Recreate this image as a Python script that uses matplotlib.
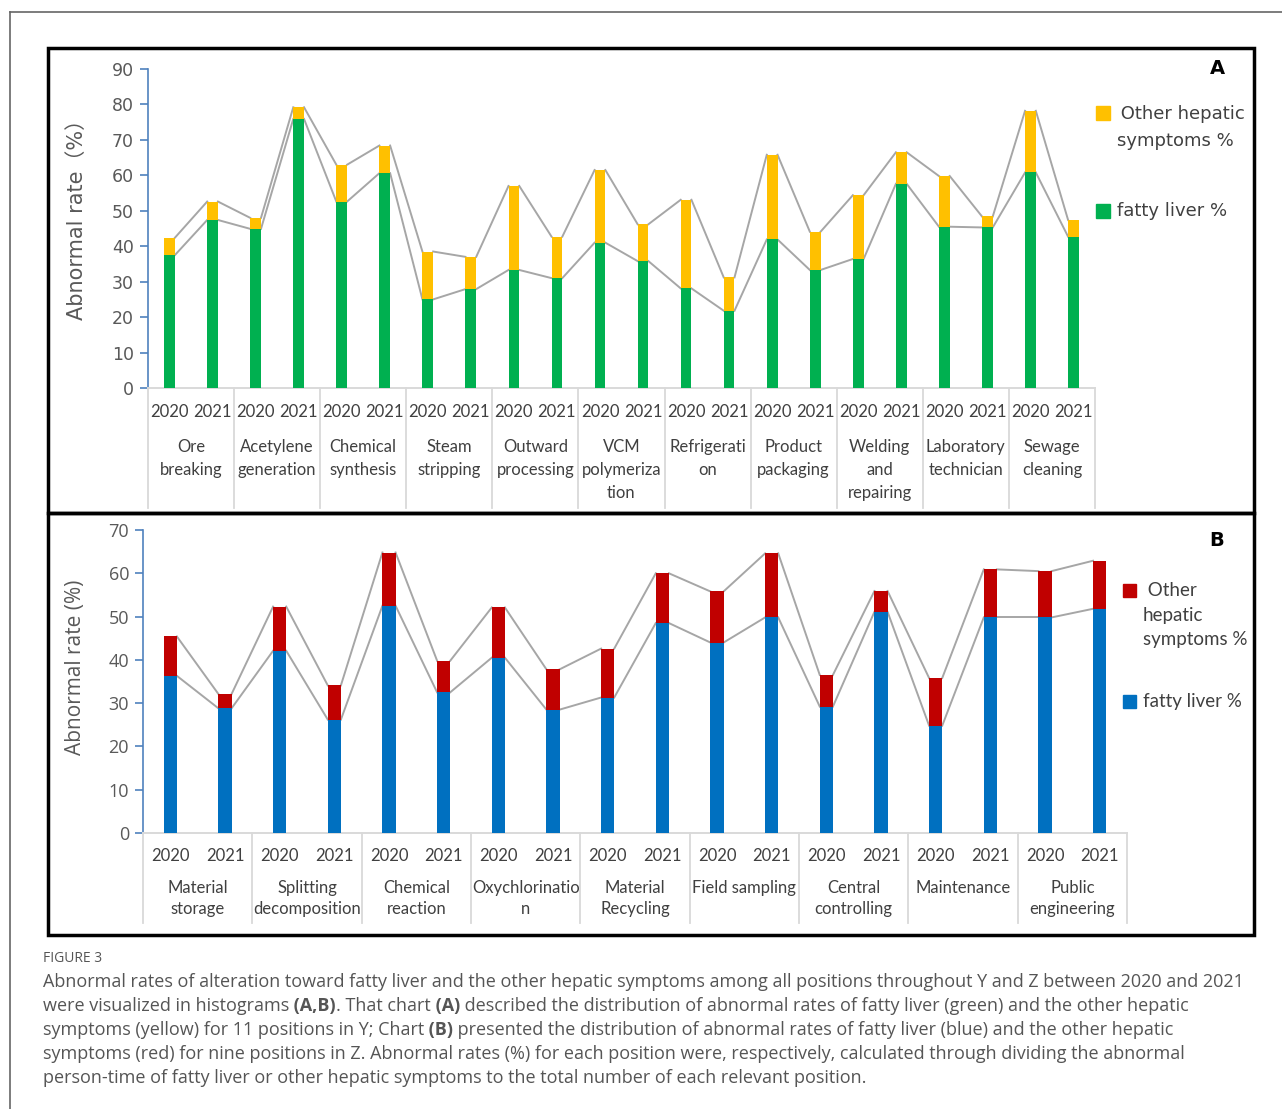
import matplotlib
matplotlib.use('Agg')
import matplotlib.pyplot as plt
import matplotlib.transforms as mtrans
from matplotlib.patches import Rectangle
from matplotlib.lines import Line2D
import numpy as np

# ---- data ----
years = ['2020', '2021']

groups_a = ['Ore\nbreaking', 'Acetylene\ngeneration', 'Chemical\nsynthesis', 'Steam\nstripping',
            'Outward\nprocessing', 'VCM\npolymeriza\ntion', 'Refrigerati\non', 'Product\npackaging',
            'Welding\nand\nrepairing', 'Laboratory\ntechnician', 'Sewage\ncleaning']
fatty_a = [37.5, 47.4, 44.9, 75.9, 52.6, 60.6, 25.0, 27.9, 33.3, 31.0, 41.0,
           35.8, 28.1, 21.8, 41.9, 33.3, 36.4, 57.6, 45.5, 45.3, 60.8, 42.7]
other_a = [4.9, 5.2, 3.1, 3.3, 10.4, 7.8, 13.5, 9.1, 23.7, 11.7, 20.5,
           10.4, 25.0, 9.4, 23.9, 10.8, 18.0, 8.9, 14.3, 3.1, 17.4, 4.7]

groups_b = ['Material\nstorage', 'Splitting\ndecomposition', 'Chemical\nreaction', 'Oxychlorinatio\nn',
            'Material\nRecycling', 'Field sampling', 'Central\ncontrolling', 'Maintenance',
            'Public\nengineering']
fatty_b = [36.3, 28.8, 42.1, 26.2, 52.5, 32.5, 40.5, 28.5, 31.3,
           48.5, 44.0, 49.8, 29.2, 51.1, 24.8, 49.8, 49.8, 51.8]
other_b = [9.1, 3.3, 10.2, 7.9, 12.3, 7.3, 11.6, 9.3, 11.3,
           11.5, 11.8, 14.8, 7.3, 4.8, 11.0, 11.1, 10.7, 11.1]

W, H = 1282, 1109
fig = plt.figure(figsize=(W / 100, H / 100), dpi=100)


def fx(x):
    return x / W


def fy(y):
    return 1 - y / H


def add_ax(x0, y0, x1, y1):
    return fig.add_axes([fx(x0), fy(y1), (x1 - x0) / W, (y1 - y0) / H])


def draw_panel(ax, groups, fatty, other, c_fat, c_oth, ymax, bw, yr_y, cat_y, sep_end,
               lab_font, lab_size, cat_spacing, tick_font, tick_size):
    n = len(fatty)
    x = np.arange(n) + 0.5
    fatty = np.array(fatty)
    total = fatty + np.array(other)

    # series lines between bar tops
    for tops in (fatty, total):
        for i in range(n - 1):
            ax.plot([x[i] + bw / 2, x[i + 1] - bw / 2], [tops[i], tops[i + 1]],
                    color='#a6a6a6', lw=1.4, zorder=2)
    ax.bar(x, fatty, bw, color=c_fat, zorder=3)
    ax.bar(x, other, bw, bottom=fatty, color=c_oth, zorder=3)

    ax.set_xlim(0, n)
    ax.set_ylim(0, ymax)
    ax.set_yticks(np.arange(0, ymax + 1, 10))
    ax.set_xticks([])
    for s in ('top', 'right'):
        ax.spines[s].set_visible(False)
    ax.spines['left'].set_color('#4f81bd')
    ax.spines['left'].set_linewidth(1.2)
    ax.spines['bottom'].set_color('#d9d9d9')
    ax.spines['bottom'].set_linewidth(1.4)
    ax.tick_params(axis='y', color='#4f81bd', length=6, width=1.2, labelcolor='#595959',
                   labelsize=tick_size, pad=4)
    for t in ax.get_yticklabels():
        t.set_family(tick_font)
    ax.patch.set_alpha(0)

    trans = mtrans.blended_transform_factory(ax.transData, fig.transFigure)
    y_axis_px = H - ax.get_position().y0 * H
    for g in range(len(groups) + 1):
        fig.add_artist(Line2D([2 * g, 2 * g], [fy(y_axis_px), fy(sep_end)], transform=trans,
                              color='#d9d9d9', lw=1.3))
    for i in range(n):
        ax.text(x[i], fy(yr_y), years[i % 2], transform=trans, ha='center', va='center',
                family=lab_font, fontsize=lab_size, color='#404040')
    for g, name in enumerate(groups):
        ax.text(2 * g + 1, fy(cat_y), name, transform=trans, ha='center', va='top',
                family=lab_font, fontsize=lab_size, color='#404040', linespacing=cat_spacing)


# outer card border
fig.add_artist(Line2D([fx(10), fx(10)], [fy(12), 0], color='#666666', lw=1.2))
fig.add_artist(Line2D([fx(10), 1], [fy(12), fy(12)], color='#666666', lw=1.2))

# panel frames
for y0, y1 in ((48, 513), (513, 935)):
    fig.add_artist(Rectangle((fx(48), fy(y1)), (1254 - 48) / W, (y1 - y0) / H,
                             fill=False, ec='black', lw=2.5))

# ---- panel A ----
ax_a = add_ax(148, 69, 1095, 388)
draw_panel(ax_a, groups_a, fatty_a, other_a, '#00b050', '#ffc000', 90, 0.25,
           412, 439, 508, 'Lato', 12, 1.55, 'DejaVu Sans', 12.5)
fig.text(fx(77), fy(215), 'Abnormal rate（%）', rotation=90, ha='center', va='center',
         family=['DejaVu Sans', 'Noto Sans CJK SC'], fontsize=15, color='#595959')
fig.text(fx(1217), fy(69), 'A', ha='center', va='center', fontsize=14, weight='bold', color='black')
fig.add_artist(Rectangle((fx(1096), fy(120)), 14 / W, 14 / H, color='#ffc000'))
fig.text(fx(1115), fy(114), ' Other hepatic', ha='left', va='center', fontsize=13, color='#404040')
fig.text(fx(1117), fy(141), 'symptoms %', ha='left', va='center', fontsize=13, color='#404040')
fig.add_artist(Rectangle((fx(1096), fy(218)), 14 / W, 14 / H, color='#00b050'))
fig.text(fx(1117), fy(211), 'fatty liver %', ha='left', va='center', fontsize=13, color='#404040')

# ---- panel B ----
ax_b = add_ax(143, 530, 1127, 833)
draw_panel(ax_b, groups_b, fatty_b, other_b, '#0070c0', '#c00000', 70, 0.24,
           856, 880, 923, 'Lato', 12, 1.4, 'Open Sans', 13)
fig.text(fx(75), fy(667), 'Abnormal rate (%)', rotation=90, ha='center', va='center',
         family='Open Sans', fontsize=15, color='#595959')
fig.text(fx(1217), fy(540), 'B', ha='center', va='center', fontsize=14, weight='bold', color='black')
fig.add_artist(Rectangle((fx(1123), fy(597)), 13 / W, 13 / H, color='#c00000'))
fig.text(fx(1143), fy(590), ' Other', ha='left', va='center', family='Lato', fontsize=13.5, color='#404040')
fig.text(fx(1143), fy(615), 'hepatic', ha='left', va='center', family='Lato', fontsize=13.5, color='#404040')
fig.text(fx(1143), fy(640), 'symptoms %', ha='left', va='center', family='Lato', fontsize=13.5, color='#404040')
fig.add_artist(Rectangle((fx(1123), fy(708)), 13 / W, 13 / H, color='#0070c0'))
fig.text(fx(1143), fy(701), 'fatty liver %', ha='left', va='center', family='Lato', fontsize=13.5, color='#404040')

# ---- caption ----
fig.text(fx(43), fy(958), 'FIGURE 3', ha='left', va='center', family='Open Sans', fontsize=10, color='#555555')

caption = [
    [('Abnormal rates of alteration toward fatty liver and the other hepatic symptoms among all positions '
      'throughout Y and Z between 2020 and 2021', 'normal')],
    [('were visualized in histograms', 'normal'), (' (A,B)', 'bold'), ('. That chart', 'normal'),
     (' (A)', 'bold'), (' described the distribution of abnormal rates of fatty liver (green) and the other hepatic', 'normal')],
    [('symptoms (yellow) for 11 positions in Y; Chart', 'normal'), (' (B)', 'bold'),
     (' presented the distribution of abnormal rates of fatty liver (blue) and the other hepatic', 'normal')],
    [('symptoms (red) for nine positions in Z. Abnormal rates (%) for each position were, respectively, '
      'calculated through dividing the abnormal', 'normal')],
    [('person-time of fatty liver or other hepatic symptoms to the total number of each relevant position.', 'normal')],
]
renderer = fig.canvas.get_renderer()
for k, parts in enumerate(caption):
    xpos = fx(43)
    for txt, wt in parts:
        t = fig.text(xpos, fy(982 + 24 * k), txt, ha='left', va='center', family='Open Sans',
                     fontsize=13, weight=wt, color='#555555')
        xpos += t.get_window_extent(renderer).width / W

fig.savefig('out.png', dpi=100)
